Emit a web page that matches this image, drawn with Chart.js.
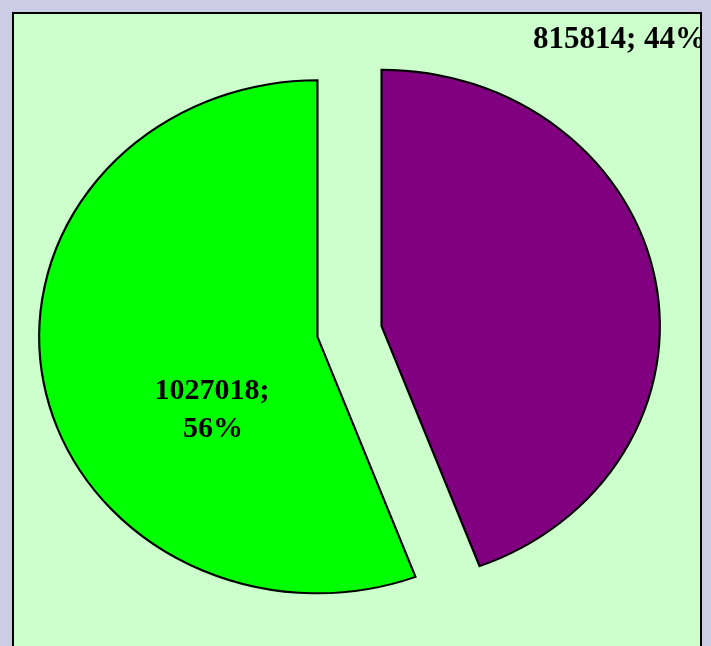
<!DOCTYPE html>
<html lang="en">
<head>
    <meta charset="UTF-8">
    <title>Pie chart</title>
    <style>
        html, body { margin: 0; padding: 0; width: 711px; height: 646px; overflow: hidden; background: #cccce4; }
        #panel { position: absolute; left: 12px; top: 12px; width: 686px; height: 700px; border: 2px solid #000; background: #ccffcc; overflow: hidden; }
        #myChart { position: absolute; left: 0; top: 0; }
    </style>
    <script src="https://cdn.jsdelivr.net/npm/chart.js"></script>
</head>
<body>
    <div id="panel">
        <canvas id="myChart" width="686" height="635" style="width:686px;height:635px"></canvas>
    </div>
    <script>
        // data
        const categories = ['Serie 1', 'Serie 2'];
        const values = [815814, 1027018];

        // styles
        const sliceColors = ['#800080', '#00ff00'];
        const explode = 30;       // px each slice is pulled out from the centre
        const stretchX = 1.085;   // the original pie is a bit wider than tall
        const labelFont = '"Liberation Serif", "Times New Roman", serif';

        const total = values.reduce((a, b) => a + b, 0);
        const pct = v => Math.round(v / total * 100) + '%';

        // draw each arc pulled out along its middle angle, stretched horizontally
        const explodePlugin = {
            id: 'explode',
            beforeDatasetDraw(chart, args) {
                const ctx = chart.ctx;
                const cx = (chart.chartArea.left + chart.chartArea.right) / 2;
                ctx.save();
                ctx.translate(cx, 0);
                ctx.scale(stretchX, 1);
                ctx.translate(-cx, 0);
                args.meta.data.forEach(arc => {
                    const mid = (arc.startAngle + arc.endAngle) / 2;
                    ctx.save();
                    ctx.translate(Math.cos(mid) * explode, Math.sin(mid) * explode);
                    arc.draw(ctx);
                    ctx.restore();
                });
                ctx.restore();
                return false;
            }
        };

        // data labels like the excel ones
        const labelPlugin = {
            id: 'sliceLabels',
            afterDraw(chart) {
                const ctx = chart.ctx;
                ctx.save();
                ctx.fillStyle = '#000';
                ctx.textBaseline = 'alphabetic';

                ctx.font = 'bold 31px ' + labelFont;
                ctx.textAlign = 'left';
                ctx.fillText(values[0] + '; ' + pct(values[0]), 519, 34);

                ctx.font = 'bold 30px ' + labelFont;
                ctx.textAlign = 'center';
                ctx.fillText(values[1] + ';', 198, 385);
                ctx.fillText(pct(values[1]), 199, 423);
                ctx.restore();
            }
        };

        const ctx = document.getElementById('myChart').getContext('2d');
        const myChart = new Chart(ctx, {
            type: 'pie',
            data: {
                labels: categories,
                datasets: [{
                    data: values,
                    backgroundColor: sliceColors,
                    borderColor: '#000',
                    borderWidth: 2,
                    borderJoinStyle: 'miter'
                }]
            },
            options: {
                responsive: false,
                animation: false,
                events: [],
                radius: 256.5,
                layout: { padding: { left: 0, right: 15, top: 0, bottom: 0 } },
                plugins: {
                    legend: { display: false },
                    tooltip: { enabled: false }
                }
            },
            plugins: [explodePlugin, labelPlugin]
        });
    </script>
</body>
</html>
